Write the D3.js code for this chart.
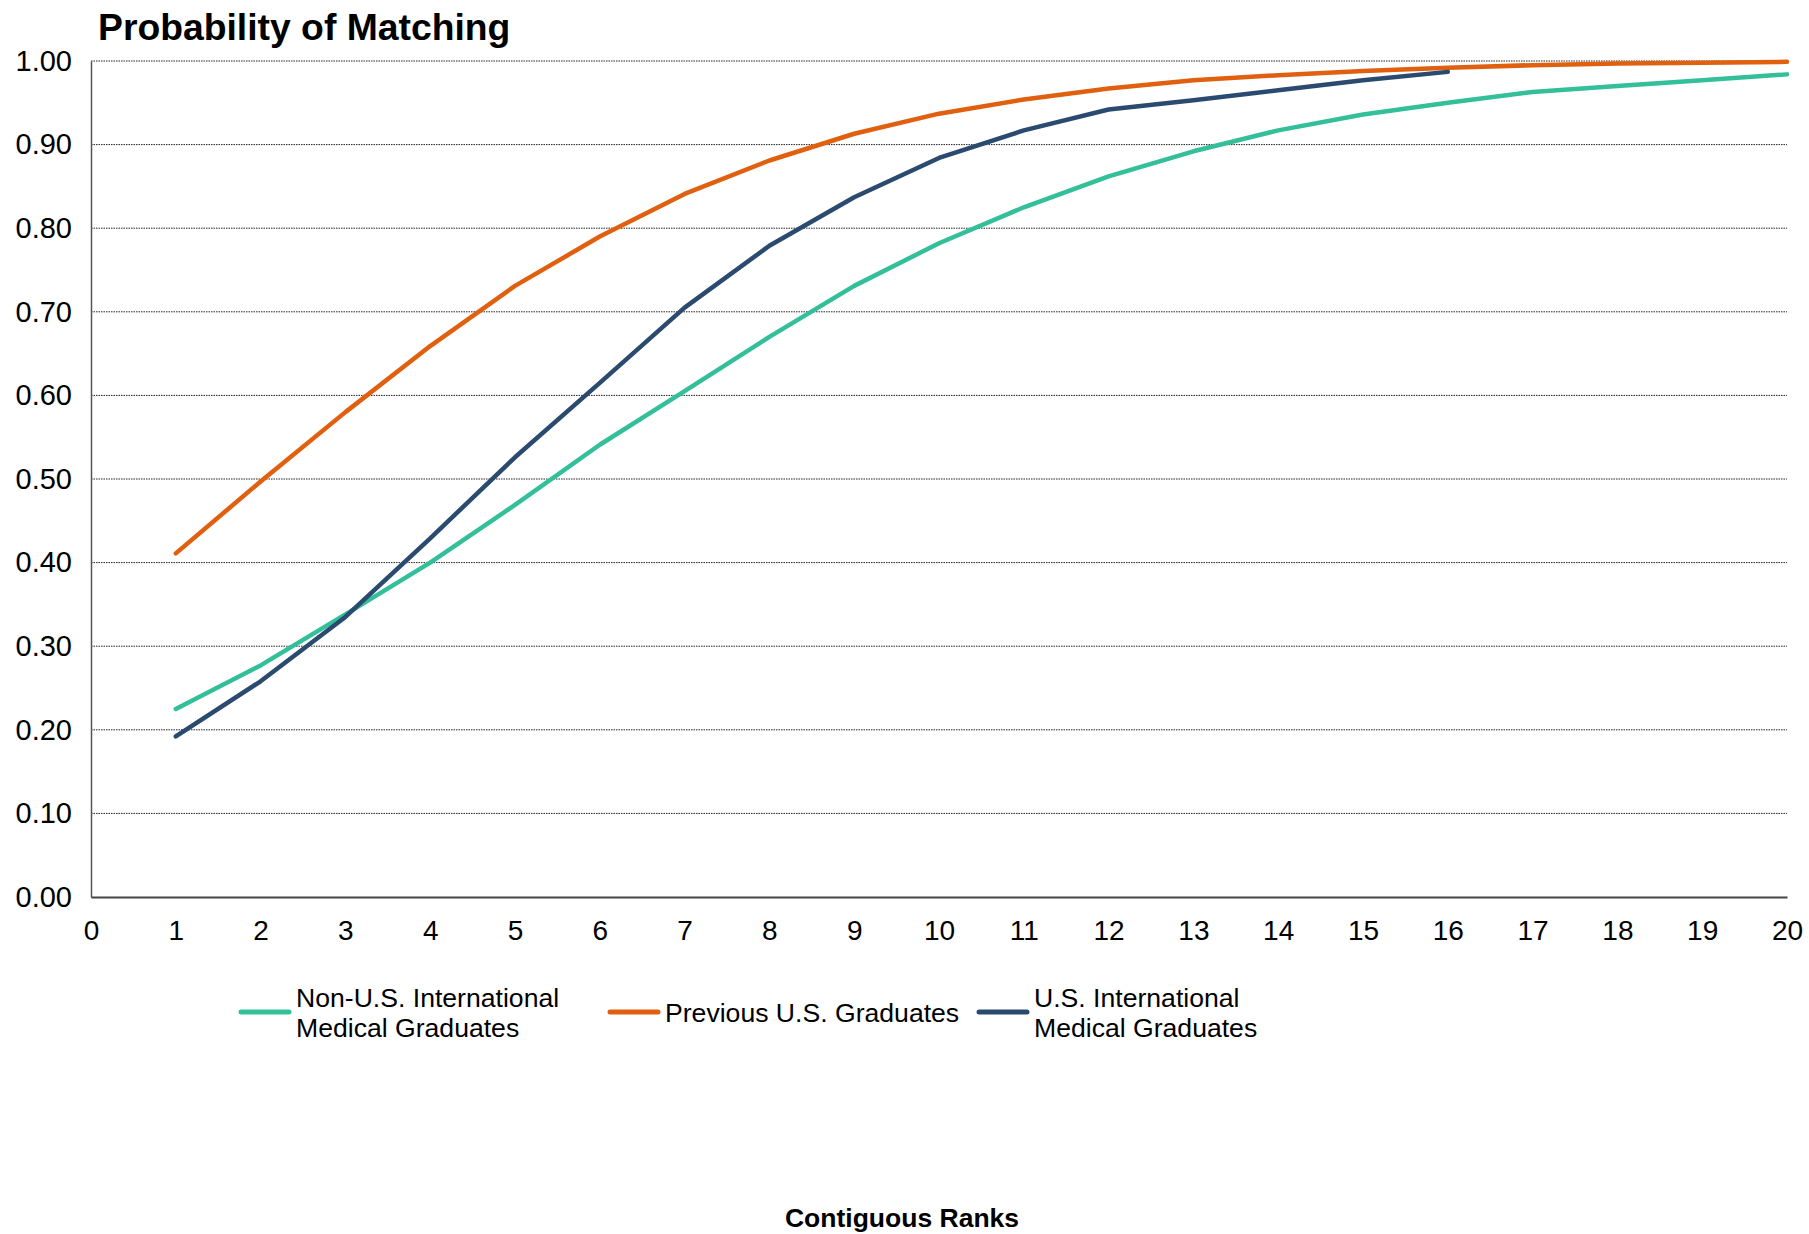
<!DOCTYPE html>
<html><head><meta charset="utf-8">
<script src="https://cdn.jsdelivr.net/npm/d3@7"></script>
<style>
html,body{margin:0;padding:0;background:#fff;}
svg{display:block;font-family:Arial,"Liberation Sans",sans-serif;}
</style></head>
<body><svg id="chart" width="1809" height="1234"></svg>
<script>
const ranks = d3.range(0, 21);
const yTicks = [0,0.1,0.2,0.3,0.4,0.5,0.6,0.7,0.8,0.9,1.0];
const seriesNames = ["Non-U.S. International Medical Graduates","Previous U.S. Graduates","U.S. International Medical Graduates"];
const seriesColors = ["#33BF9A","#E06010","#2B4A6F"];
const nonUSIMG = [0.225,0.277,0.338,0.400,0.469,0.541,0.605,0.670,0.731,0.782,0.825,0.862,0.892,0.917,0.936,0.950,0.963,0.970,0.977,0.984];
const prevUS   = [0.411,0.497,0.580,0.659,0.731,0.790,0.841,0.881,0.913,0.937,0.954,0.967,0.977,0.983,0.988,0.992,0.995,0.997,0.998,0.999];
const usIMG    = [0.192,0.258,0.335,0.429,0.526,0.615,0.705,0.779,0.837,0.884,0.917,0.942,0.953,0.965,0.977,0.987];
const seriesValues = [nonUSIMG, prevUS, usIMG];

const svg = d3.select("#chart");
const L=91, R=1787, T=61, B=897;
const x = d3.scaleLinear().domain([0,20]).range([L,R]);
const y = d3.scaleLinear().domain([0,1]).range([B,T]);

// gridlines
svg.append("g").selectAll("line").data(yTicks.filter(d=>d>0)).join("line")
  .attr("x1",L).attr("x2",R).attr("y1",d=>y(d)).attr("y2",d=>y(d))
  .attr("stroke","#222").attr("stroke-width",1).attr("stroke-dasharray","1.5,1");

// y axis
const ya = svg.append("g").attr("transform",`translate(${L},0)`)
  .call(d3.axisLeft(y).tickValues(yTicks).tickFormat(d3.format(".2f")).tickSize(0).tickPadding(19));
ya.select(".domain").attr("stroke","#555").attr("stroke-width",1.5);
ya.selectAll("text").attr("font-size",29).attr("fill","#000").attr("font-family","Arial, Liberation Sans, sans-serif");

// x axis
const xa = svg.append("g").attr("transform",`translate(0,${B})`)
  .call(d3.axisBottom(x).tickValues(ranks).tickFormat(d3.format("d")).tickSize(0).tickPadding(23));
xa.select(".domain").attr("stroke","#444").attr("stroke-width",2);
xa.selectAll("text").attr("font-size",28).attr("fill","#000").attr("font-family","Arial, Liberation Sans, sans-serif");

// lines
const line = d3.line().x((d,i)=>x(i+1)).y(d=>y(d));
svg.append("g").selectAll("path").data(seriesValues).join("path")
  .attr("d",line).attr("fill","none")
  .attr("stroke",(d,i)=>seriesColors[i]).attr("stroke-width",4.5)
  .attr("stroke-linecap","round").attr("stroke-linejoin","round");

// title
svg.append("text").attr("x",98).attr("y",40).attr("font-size",37.3).attr("font-weight","bold")
  .attr("fill","#000").text("Probability of Matching");

// legend
const legend = [
  {sx:241, tx:296, lines:["Non-U.S. International","Medical Graduates"]},
  {sx:610, tx:665, lines:["Previous U.S. Graduates"]},
  {sx:979, tx:1034, lines:["U.S. International","Medical Graduates"]}
];
const lg = svg.append("g");
legend.forEach((l,i)=>{
  lg.append("line").attr("x1",l.sx).attr("x2",l.sx+48).attr("y1",1012).attr("y2",1012)
    .attr("stroke",seriesColors[i]).attr("stroke-width",5).attr("stroke-linecap","round");
  const n=l.lines.length;
  l.lines.forEach((t,j)=>{
    lg.append("text").attr("x",l.tx).attr("y",1013+(j-(n-1)/2)*30).attr("dy","0.35em")
      .attr("font-size",26.6).attr("fill","#000").text(t);
  });
});

// x axis title
svg.append("text").attr("x",902).attr("y",1218).attr("dy","0.35em").attr("text-anchor","middle")
  .attr("font-size",26.5).attr("font-weight","bold").attr("fill","#000").text("Contiguous Ranks");
</script></body></html>
